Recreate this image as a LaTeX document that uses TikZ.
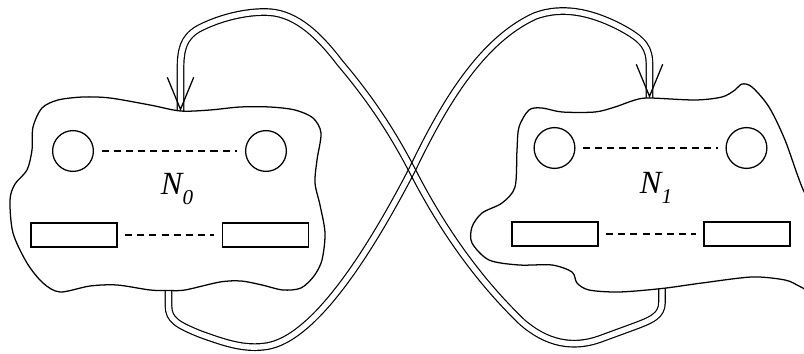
\documentclass[tikz,border=0pt]{standalone}
\usepackage{fontspec}
\setmainfont{Liberation Serif}[ItalicFont={Liberation Serif Italic}]
\usepackage{tikz}
\usetikzlibrary{arrows.meta}
\newcommand{\lowidx}[1]{\raisebox{-0.3em}{\fontsize{15}{16}\selectfont #1}}
\tikzset{blob/.style={line width=0.9pt},
         hole/.style={circle,draw,line width=0.9pt,minimum size=1.02cm,inner sep=0pt},
         slot/.style={rectangle,draw,line width=0.9pt,minimum width=2.15cm,minimum height=0.6cm,inner sep=0pt},
         gap/.style={line width=1.2pt,dash pattern=on 5pt off 3.6pt,shorten <=5.4pt,shorten >=5.4pt},
         link/.style={line width=0.85pt,double,double distance=3.8pt,line join=round},
         vtip/.style={line width=0.9pt,-{Straight Barb[length=0.8cm,width=0.66cm]}},
         lbl/.style={font=\fontsize{23}{25}\selectfont\itshape}}

\begin{document}
\begin{tikzpicture}[x=0.025cm,y=-0.025cm]
\clip (0,0) rectangle (804,354);
\coordinate (n0top) at (180.5,111);
\coordinate (n0bot) at (168.5,290.5);
\coordinate (n1top) at (649.5,98);
\coordinate (n1bot) at (662,288.5);
\begin{scope}[blend mode=multiply]
\begin{scope}[transparency group]
\draw[link] (n1bot) -- (662,302) .. controls (662,316) and (652,320) .. (630,328)
  -- (600,339) .. controls (572,349) and (546,343) .. (522,322)
  .. controls (470,272) and (435,215) .. (412,170)
  .. controls (390,128) and (368,96) .. (340,63)
  .. controls (315,30) and (292,12) .. (265,12)
  .. controls (240,12) and (215,20) .. (198,29)
  .. controls (183,38) and (180.5,50) .. (180.5,70) -- (n0top);
\end{scope}
\end{scope}
\begin{scope}[blend mode=multiply]
\begin{scope}[transparency group]
\draw[link] (n0bot) -- (168.5,306) .. controls (168.5,320) and (178,325) .. (200,334)
  .. controls (225,343) and (245,350) .. (268,346)
  .. controls (310,338) and (360,270) .. (412,170)
  .. controls (440,112) and (478,42) .. (535,16)
  .. controls (562,6) and (590,12) .. (618,26)
  .. controls (645,40) and (649.5,48) .. (649.5,66) -- (n1top);
\end{scope}
\end{scope}
\draw[vtip] (n0top) ++(0,-1) -- (n0top);
\draw[vtip] (n1top) ++(0,-1) -- (n1top);
\draw[blob] plot[smooth cycle] coordinates {(33,127) (42,108) (58,100) (83,97) (110,98)
  (150,105) (180.5,111) (210,110) (240,107) (270,107) (295,110) (313,118) (321,133)
  (317,160) (315,183) (320,205) (325,233) (322,260) (314,276) (301,288) (283,290)
  (262,285) (241,281) (220,282) (185,290) (168.5,290.5) (150,290) (117,285) (90,286)
  (60,292) (43,283) (27,263) (13,233) (10,200) (15,184) (27,170) (32,150)};
\draw[blob] plot[smooth cycle] coordinates {(529,110) (542,108) (562,112) (595,112)
  (615,107) (635,100) (649.5,98) (695,100) (722,97) (735,90) (742,84) (752,87)
  (769,107) (785,140) (802,187) (826,240) (832,290) (812,292) (799,286) (785,280)
  (752,277) (702,283) (662,288.5) (619,292) (589,290) (577,283) (572,272) (552,265)
  (519,265) (489,260) (472,243) (472,227) (482,213) (502,203) (515,187) (517,150)
  (519,127)};
\node[hole] (h00) at (73,151) {};
\node[hole] (h01) at (266,151) {};
\node[slot] (s00) at (74,235) {};
\node[slot] (s01) at (265.5,235) {};
\draw[gap] (h00) -- (h01);
\draw[gap] (s00) -- (s01);
\node[lbl] (l0) at (177,189) {N\lowidx{0}};
\node[hole] (h10) at (554.5,148) {};
\node[hole] (h11) at (746.5,148) {};
\node[slot] (s10) at (555,234) {};
\node[slot] (s11) at (747,234) {};
\draw[gap] (h10) -- (h11);
\draw[gap] (s10) -- (s11);
\node[lbl] (l1) at (656,188) {N\lowidx{1}};
\end{tikzpicture}
\end{document}
